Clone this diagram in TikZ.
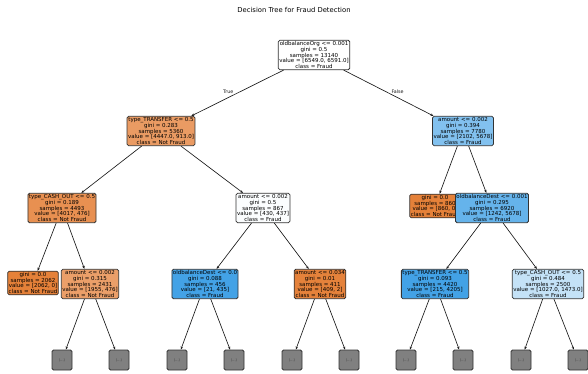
\documentclass[tikz,border=0pt]{standalone}
\usepackage{fontspec}
\setmainfont{DejaVu Sans}
\usetikzlibrary{arrows.meta}
\definecolor{skorange}{RGB}{229,129,57}
\definecolor{skblue}{RGB}{57,157,229}

\begin{document}
\begin{tikzpicture}[x=1pt, y=-1pt, node distance=76pt]
  \tikzstyle{split} = [rectangle, draw=black!80, line width=.8pt, rounded corners=1.5pt,
                       align=center, inner sep=1pt, font=\fontsize{5.5}{5.8}\selectfont]
  \tikzstyle{leaf} = [rectangle, draw=black!80, line width=.8pt, rounded corners=1.5pt,
                      fill=gray, minimum size=20pt, inner sep=0pt, text=black!75,
                      font=\fontsize{3.6}{4}\selectfont]
  \tikzstyle{edge} = [-{Stealth[length=3pt,width=2.4pt]}, line width=.65pt, black!90]
  \tikzstyle{lbl} = [font=\fontsize{4.8}{5}\selectfont, inner sep=1pt]

\useasboundingbox (0,0) rectangle (588,374);
\node[font=\fontsize{6.8}{8}\selectfont] (title) at (294,10) {Decision Tree for Fraud Detection};

\node[split, fill=white] (root) at (314,55) {oldbalanceOrg <= 0.001\\gini = 0.5\\samples = 13140\\value = [6549.0, 6591.0]\\class = Fraud};
\node[split, fill=skorange!79, below of=root, xshift=-153pt] (transfer) {type\_TRANSFER <= 0.5\\gini = 0.283\\samples = 5360\\value = [4447.0, 913.0]\\class = Not Fraud};
\node[split, fill=skblue!63, below of=root, xshift=149pt] (amtA) {amount <= 0.002\\gini = 0.394\\samples = 7780\\value = [2102, 5678]\\class = Fraud};
\node[split, fill=skorange!88, below of=transfer, xshift=-99pt, yshift=-1pt] (cashout) {type\_CASH\_OUT <= 0.5\\gini = 0.189\\samples = 4493\\value = [4017, 476]\\class = Not Fraud};
\node[split, fill=skblue!2, below of=transfer, xshift=102pt, yshift=-1pt] (amtB) {amount <= 0.002\\gini = 0.5\\samples = 867\\value = [430, 437]\\class = Fraud};
\node[split, fill=skorange, below of=amtA, xshift=-28pt, yshift=1pt] (pureA) {gini = 0.0\\samples = 860\\value = [860, 0]\\class = Not Fraud};
\node[split, fill=skblue!78, below of=amtA, xshift=29pt, yshift=-1pt] (obdA) {oldbalanceDest <= 0.001\\gini = 0.295\\samples = 6920\\value = [1242, 5678]\\class = Fraud};
\node[split, fill=skorange, below of=cashout, xshift=-29pt, yshift=1pt] (pureB) {gini = 0.0\\samples = 2062\\value = [2062, 0]\\class = Not Fraud};
\node[split, fill=skorange!76, below of=cashout, xshift=28pt] (amtC) {amount <= 0.002\\gini = 0.315\\samples = 2431\\value = [1955, 476]\\class = Not Fraud};
\node[split, fill=skblue!95, below of=amtB, xshift=-58pt] (obdB) {oldbalanceDest <= 0.0\\gini = 0.088\\samples = 456\\value = [21, 435]\\class = Fraud};
\node[split, fill=skorange!99, below of=amtB, xshift=57pt] (amtD) {amount <= 0.034\\gini = 0.01\\samples = 411\\value = [409, 2]\\class = Not Fraud};
\node[split, fill=skblue!95, below of=obdA, xshift=-57pt] (transferB) {type\_TRANSFER <= 0.5\\gini = 0.093\\samples = 4420\\value = [215, 4205]\\class = Fraud};
\node[split, fill=skblue!30, below of=obdA, xshift=56pt] (cashoutB) {type\_CASH\_OUT <= 0.5\\gini = 0.484\\samples = 2500\\value = [1027.0, 1473.0]\\class = Fraud};

\node[leaf, below of=amtC, xshift=-28pt] (l1) {(...)};
\node[leaf, below of=amtC, xshift=29pt] (l2) {(...)};
\node[leaf, below of=obdB, xshift=-28pt] (l3) {(...)};
\node[leaf, below of=obdB, xshift=29pt] (l4) {(...)};
\node[leaf, below of=amtD, xshift=-28pt] (l5) {(...)};
\node[leaf, below of=amtD, xshift=29pt] (l6) {(...)};
\node[leaf, below of=transferB, xshift=-29pt] (l7) {(...)};
\node[leaf, below of=transferB, xshift=28pt] (l8) {(...)};
\node[leaf, below of=cashoutB, xshift=-27pt] (l9) {(...)};
\node[leaf, below of=cashoutB, xshift=30pt] (l10) {(...)};

\draw[edge] (root) -- node[lbl, pos=.6, above=3pt]{True} (transfer);
\draw[edge] (root) -- node[lbl, pos=.6, above=3pt]{False} (amtA);
\draw[edge] (transfer) -- (cashout);
\draw[edge] (transfer) -- (amtB);
\draw[edge] (amtA) -- (pureA);
\draw[edge] (amtA) -- (obdA);
\draw[edge] (cashout) -- (pureB);
\draw[edge] (cashout) -- (amtC);
\draw[edge] (amtB) -- (obdB);
\draw[edge] (amtB) -- (amtD);
\draw[edge] (obdA) -- (transferB);
\draw[edge] (obdA) -- (cashoutB);
\draw[edge] (amtC) -- (l1);
\draw[edge] (amtC) -- (l2);
\draw[edge] (obdB) -- (l3);
\draw[edge] (obdB) -- (l4);
\draw[edge] (amtD) -- (l5);
\draw[edge] (amtD) -- (l6);
\draw[edge] (transferB) -- (l7);
\draw[edge] (transferB) -- (l8);
\draw[edge] (cashoutB) -- (l9);
\draw[edge] (cashoutB) -- (l10);
\end{tikzpicture}
\end{document}
